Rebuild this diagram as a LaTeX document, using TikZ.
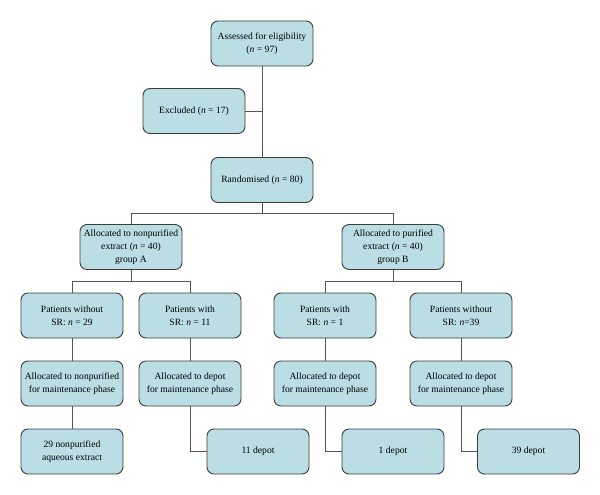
\documentclass[tikz,border=0pt]{standalone}
\usepackage{fontspec}
\setmainfont{Liberation Serif}
\definecolor{boxfill}{RGB}{186,222,227}
\definecolor{boxline}{RGB}{60,60,60}
\definecolor{conn}{RGB}{85,85,85}
\begin{document}
\begin{tikzpicture}[x=1pt,y=-1pt,
  box/.style={draw=boxline,fill=boxfill,line width=0.9pt,rounded corners=7pt,
    minimum width=102pt,minimum height=45pt,align=center,inner sep=1pt,
    font=\fontsize{9.6}{12.8}\selectfont},
  link/.style={draw=conn,line width=1pt}]
\useasboundingbox (0,0) rectangle (600,495);
\node[box] (ass) at (262,43.5) {Assessed for eligibility\\(\textit{n} = 97)};
\node[box] (exc) at (194,111) {Excluded (\textit{n} = 17)};
\node[box] (ran) at (262,180) {Randomised (\textit{n} = 80)};
\node[box] (ga) at (131,247) {Allocated to nonpurified\\extract (\textit{n} = 40)\\group A};
\node[box] (gb) at (393,247) {Allocated to purified\\extract (\textit{n} = 40)\\group B};
\node[box] (p1) at (72,315.5) {Patients without\\SR: \textit{n} = 29};
\node[box] (p2) at (190,315.5) {Patients with\\SR: \textit{n} = 11};
\node[box] (p3) at (325,315.5) {Patients with\\SR: \textit{n} = 1};
\node[box] (p4) at (461,315.5) {Patients without\\SR: \textit{n}=39};
\node[box] (m1) at (72,383.5) {Allocated to nonpurified\\for maintenance phase};
\node[box] (m2) at (190,383.5) {Allocated to depot\\for maintenance phase};
\node[box] (m3) at (325,383.5) {Allocated to depot\\for maintenance phase};
\node[box] (m4) at (461,383.5) {Allocated to depot\\for maintenance phase};
\node[box] (d1) at (72,451.5) {29 nonpurified\\aqueous extract};
\node[box] (d2) at (258,451.5) {11 depot};
\node[box] (d3) at (393,451.5) {1 depot};
\node[box] (d4) at (528.5,451.5) {39 depot};
\coordinate (j0) at (262,111);
\coordinate (j1) at (262,213);
\coordinate (ja) at (131,281);
\coordinate (jb) at (393,281);
\path[link] (ass.south) -- (ran.north);
\path[link] (exc.east) -- (j0);
\path[link] (ran.south) -- (j1);
\path[link] (j1) -| (ga.north);
\path[link] (j1) -| (gb.north);
\path[link] (ga.south) -- (ja);
\path[link] (ja) -| (p1.north);
\path[link] (ja) -| (p2.north);
\path[link] (gb.south) -- (jb);
\path[link] (jb) -| (p3.north);
\path[link] (jb) -| (p4.north);
\path[link] (p1.south) -- (m1.north);
\path[link] (p2.south) -- (m2.north);
\path[link] (p3.south) -- (m3.north);
\path[link] (p4.south) -- (m4.north);
\path[link] (m1.south) -- (d1.north);
\path[link] (m2.south) |- (d2.west);
\path[link] (m3.south) |- (d3.west);
\path[link] (m4.south) |- (d4.west);
\end{tikzpicture}
\end{document}
